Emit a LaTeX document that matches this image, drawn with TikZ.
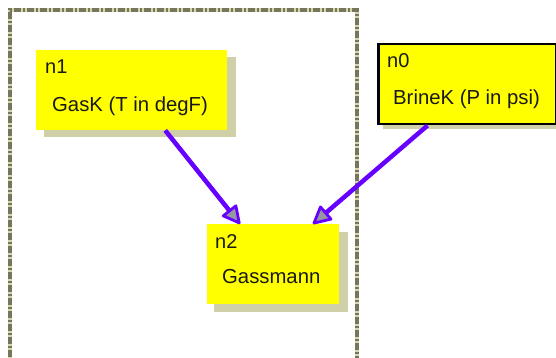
\documentclass[tikz,border=0pt]{standalone}
\usepackage{fontspec}
\setmainfont{Liberation Sans}
\usetikzlibrary{arrows.meta,calc}
\definecolor{boxyellow}{RGB}{255,255,0}
\definecolor{shadowc}{RGB}{208,208,168}
\definecolor{dashdark}{RGB}{118,118,92}
\definecolor{dashlight}{RGB}{214,214,170}
\definecolor{arrowc}{RGB}{102,0,255}
\definecolor{tipfill}{RGB}{150,150,160}
\tikzset{
  boxnode/.style={rectangle, fill=boxyellow, inner sep=0pt, anchor=north west},
  shadowbox/.style={fill=shadowc},
  idtext/.style={anchor=base west, inner sep=0pt, font=\fontsize{20}{24}\selectfont, text=black!90},
  maintext/.style={anchor=base west, inner sep=0pt, font=\fontsize{20.3}{24}\selectfont, text=black!90},
  link/.style={draw=arrowc, line width=4.5pt,
    -{Triangle[length=20pt, width=20pt, line width=2.8pt, fill=tipfill, round]}},
}
\begin{document}
\begin{tikzpicture}[x=1pt,y=-1pt]
\useasboundingbox (0,0) rectangle (556,358);
\clip (0,0) rectangle (556,358);
\fill[white] (0,0) rectangle (556,358);
% dashed group frame
\draw[dashlight, line width=3.5pt] (10,370) -- (10,10) -- (357,10) -- (357,370);
\draw[dashdark, line width=3.5pt, dash pattern=on 7pt off 2pt on 2pt off 2pt] (10,370) -- (10,10) -- (357,10) -- (357,370);
% shadows
\fill[shadowbox] (44,57) rectangle (236,137);
\fill[shadowbox] (383,50) rectangle (565,129);
\fill[shadowbox] (214,232) rectangle (348,312);
% boxes
\node[boxnode, minimum width=191pt, minimum height=80pt] (n1box) at (36,50) {};
\node[boxnode, minimum width=178pt, minimum height=80pt, draw=black, line width=2.5pt] (n0box) at (377,43) {};
\node[boxnode, minimum width=132pt, minimum height=80pt] (n2box) at (207,224) {};
% texts
\node[idtext] (n1id) at ($(n1box.north west)+(9,24)$) {n1};
\node[maintext] (n1txt) at ($(n1box.north west)+(16,62)$) {GasK (T in degF)};
\node[idtext] (n0id) at ($(n0box.north west)+(10,25)$) {n0};
\node[maintext] (n0txt) at ($(n0box.north west)+(16,62)$) {BrineK (P in psi)};
\node[idtext] (n2id) at ($(n2box.north west)+(8,24)$) {n2};
\node[maintext] (n2txt) at ($(n2box.north west)+(15,59)$) {Gassmann};
% connectors
\draw[link] ($(n1box.south west)!0.675!(n1box.south east)$) -- ($(n2box.north west)!0.25!(n2box.north east)$);
\draw[link] ($(n0box.south west)!0.28!(n0box.south east)$) -- ($(n2box.north west)!0.80!(n2box.north east)$);
\end{tikzpicture}
\end{document}
